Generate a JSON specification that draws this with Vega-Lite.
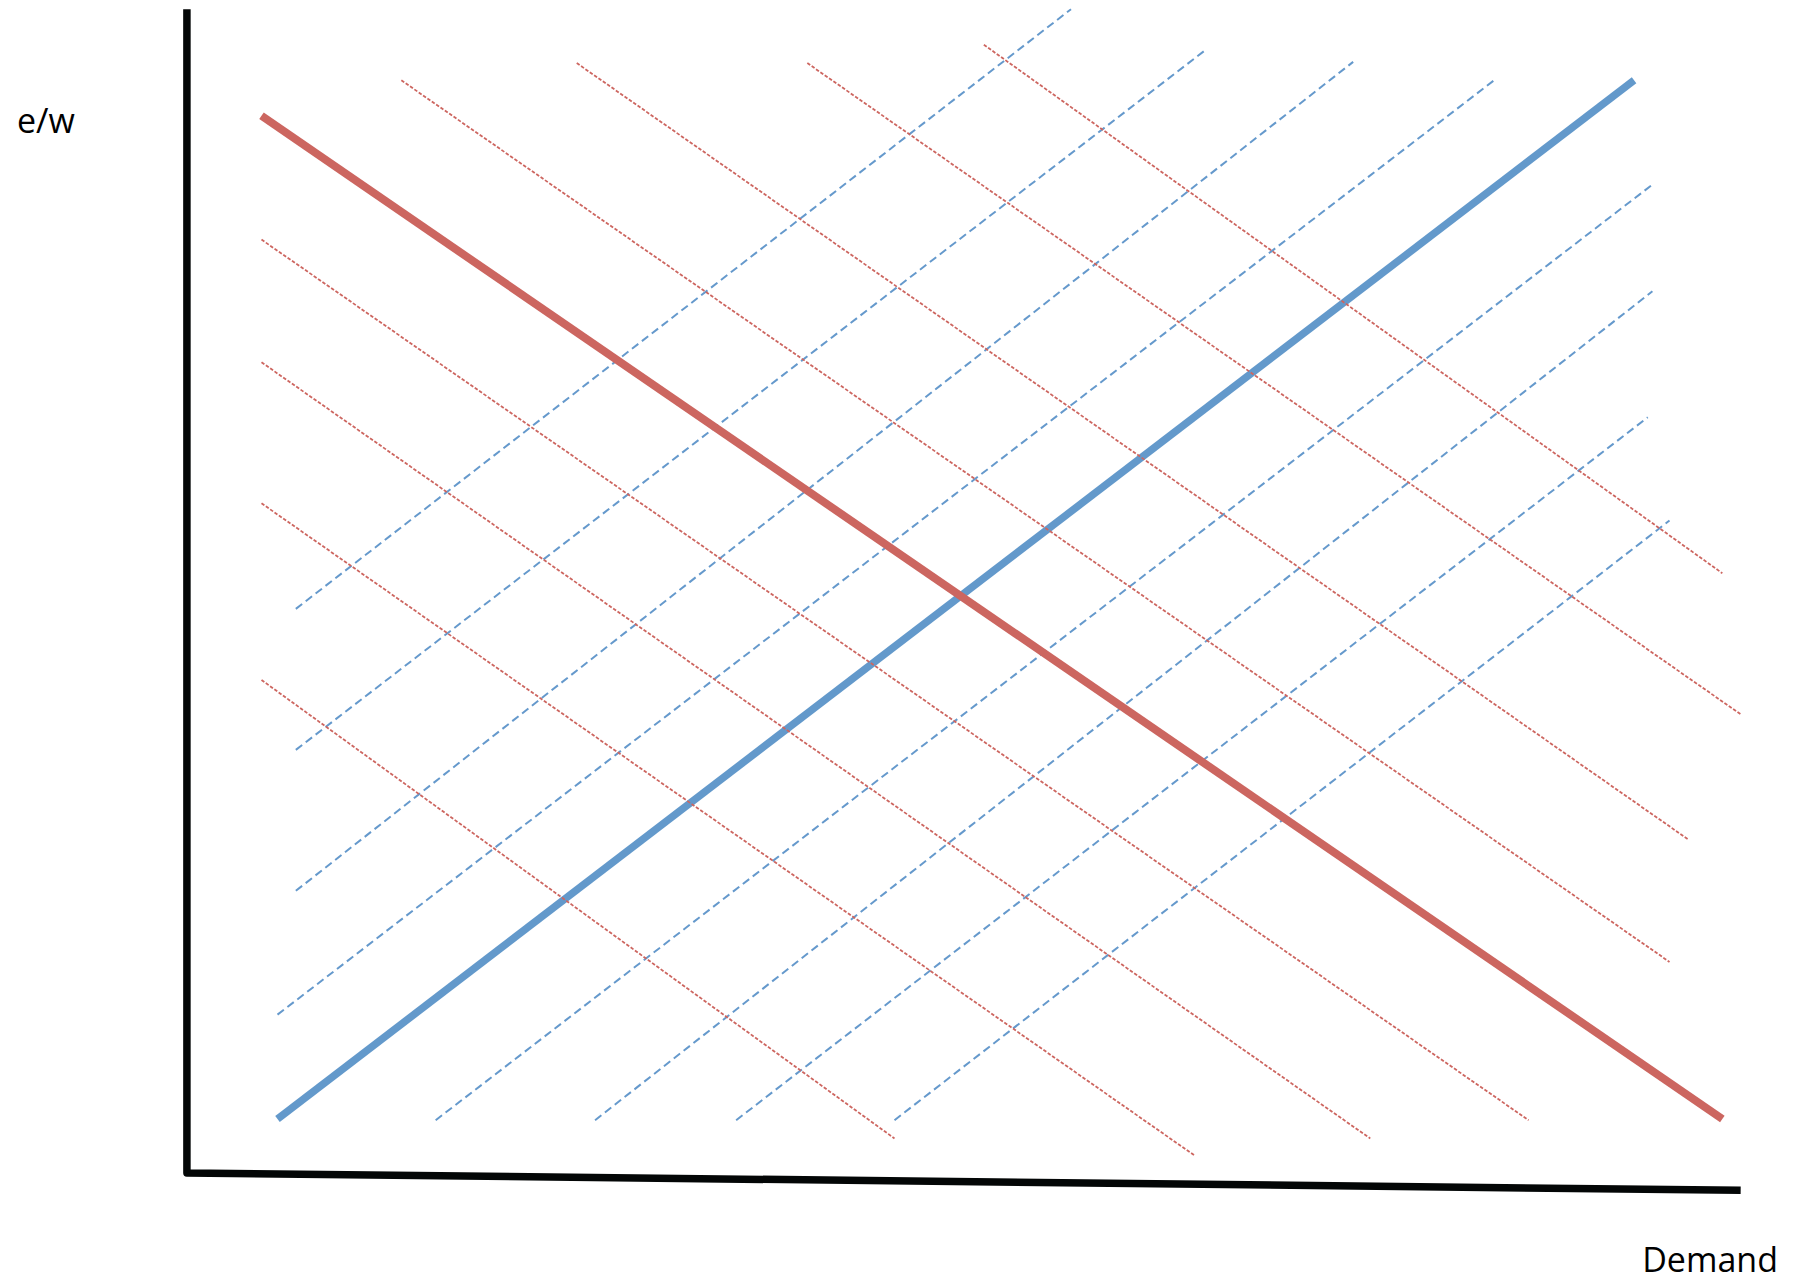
{
  "$schema": "https://vega.github.io/schema/vega-lite/v6.json",
  "width": 1798,
  "height": 1283,
  "autosize": {"type": "fit", "contains": "padding"},
  "padding": 0,
  "background": "white",
  "config": {"view": {"stroke": null}},
  "datasets": {
    "axes": [
      {"id": "axes", "pt": 1, "x": 0, "y": 100},
      {"id": "axes", "pt": 2, "x": 0, "y": 0},
      {"id": "axes", "pt": 3, "x": 100, "y": -1.5}
    ],
    "redDash": [
      {"id": "R1", "pt": 1, "x": 4.80, "y": 42.36}, {"id": "R1", "pt": 2, "x": 45.54, "y": 2.96},
      {"id": "R2", "pt": 1, "x": 4.80, "y": 57.54}, {"id": "R2", "pt": 2, "x": 64.87, "y": 1.48},
      {"id": "R3", "pt": 1, "x": 4.80, "y": 69.66}, {"id": "R3", "pt": 2, "x": 76.16, "y": 2.96},
      {"id": "R4", "pt": 1, "x": 4.80, "y": 80.20}, {"id": "R4", "pt": 2, "x": 86.35, "y": 4.53},
      {"id": "R5", "pt": 1, "x": 13.80, "y": 93.89}, {"id": "R5", "pt": 2, "x": 95.42, "y": 18.13},
      {"id": "R6", "pt": 1, "x": 25.09, "y": 95.37}, {"id": "R6", "pt": 2, "x": 96.61, "y": 28.67},
      {"id": "R7", "pt": 1, "x": 39.93, "y": 95.37}, {"id": "R7", "pt": 2, "x": 100.0, "y": 39.41},
      {"id": "R8", "pt": 1, "x": 51.29, "y": 96.95}, {"id": "R8", "pt": 2, "x": 98.82, "y": 51.53}
    ],
    "blueDash": [
      {"id": "B1", "pt": 1, "x": 7.01, "y": 48.47}, {"id": "B1", "pt": 2, "x": 56.90, "y": 100.0},
      {"id": "B2", "pt": 1, "x": 7.01, "y": 36.35}, {"id": "B2", "pt": 2, "x": 65.61, "y": 96.55},
      {"id": "B3", "pt": 1, "x": 7.01, "y": 24.24}, {"id": "B3", "pt": 2, "x": 75.06, "y": 95.47},
      {"id": "B4", "pt": 1, "x": 5.83, "y": 13.60}, {"id": "B4", "pt": 2, "x": 84.13, "y": 93.89},
      {"id": "B5", "pt": 1, "x": 16.01, "y": 4.53}, {"id": "B5", "pt": 2, "x": 94.32, "y": 84.93},
      {"id": "B6", "pt": 1, "x": 26.27, "y": 4.53}, {"id": "B6", "pt": 2, "x": 94.32, "y": 75.76},
      {"id": "B7", "pt": 1, "x": 35.35, "y": 4.53}, {"id": "B7", "pt": 2, "x": 94.02, "y": 64.93},
      {"id": "B8", "pt": 1, "x": 45.54, "y": 4.53}, {"id": "B8", "pt": 2, "x": 95.42, "y": 56.06}
    ],
    "mainBlue": [
      {"id": "supply", "pt": 1, "x": 5.83, "y": 4.63},
      {"id": "supply", "pt": 2, "x": 93.14, "y": 93.89}
    ],
    "mainRed": [
      {"id": "demand", "pt": 1, "x": 4.80, "y": 90.84},
      {"id": "demand", "pt": 2, "x": 98.82, "y": 4.63}
    ],
    "labels": [
      {"label": "e/w", "x": -10.94, "y": 89.36, "anchor": "left"},
      {"label": "Demand", "x": 102.40, "y": -8.55, "anchor": "right"}
    ]
  },
  "encoding": {
    "x": {"field": "x", "type": "quantitative", "axis": null,
          "scale": {"domain": [-12.03, 103.69], "nice": false, "zero": false}},
    "y": {"field": "y", "type": "quantitative", "axis": null,
          "scale": {"domain": [-9.46, 100.79], "nice": false, "zero": false}}
  },
  "layer": [
    {
      "data": {"name": "blueDash"},
      "mark": {"type": "line", "color": "#6599cc", "strokeWidth": 2, "strokeDash": [8, 4.5], "strokeCap": "butt"},
      "encoding": {"detail": {"field": "id"}, "order": {"field": "pt"}}
    },
    {
      "data": {"name": "mainBlue"},
      "mark": {"type": "line", "color": "#6399cb", "strokeWidth": 7.5, "strokeCap": "butt"},
      "encoding": {"detail": {"field": "id"}, "order": {"field": "pt"}}
    },
    {
      "data": {"name": "redDash"},
      "mark": {"type": "line", "color": "#cd6660", "strokeWidth": 1.8, "strokeDash": [3.5, 1.8], "strokeCap": "butt"},
      "encoding": {"detail": {"field": "id"}, "order": {"field": "pt"}}
    },
    {
      "data": {"name": "mainRed"},
      "mark": {"type": "line", "color": "#cc6660", "strokeWidth": 8, "strokeCap": "butt"},
      "encoding": {"detail": {"field": "id"}, "order": {"field": "pt"}}
    },
    {
      "data": {"name": "axes"},
      "mark": {"type": "line", "color": "#030606", "strokeWidth": 7.5, "strokeCap": "butt", "strokeJoin": "round"},
      "encoding": {"detail": {"field": "id"}, "order": {"field": "pt"}}
    },
    {
      "data": {"name": "labels"},
      "transform": [{"filter": "datum.anchor == 'left'"}],
      "mark": {"type": "text", "font": "Open Sans", "fontSize": 34, "color": "#000000", "align": "left", "baseline": "alphabetic"},
      "encoding": {"text": {"field": "label"}}
    },
    {
      "data": {"name": "labels"},
      "transform": [{"filter": "datum.anchor == 'right'"}],
      "mark": {"type": "text", "font": "Open Sans", "fontSize": 34, "color": "#000000", "align": "right", "baseline": "alphabetic"},
      "encoding": {"text": {"field": "label"}}
    }
  ]
}
